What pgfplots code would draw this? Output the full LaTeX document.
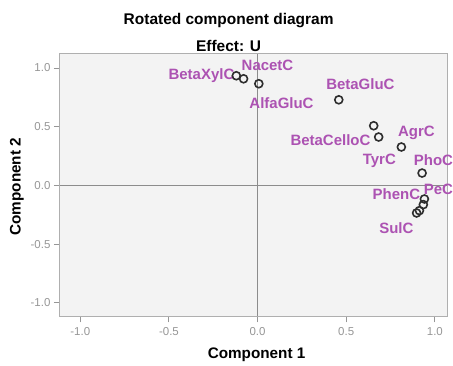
\documentclass[border=0pt]{standalone}
\usepackage{pgfplots}
\pgfplotsset{compat=1.18}
\usepackage{fontspec}
\setmainfont{Liberation Sans}

\definecolor{lbl}{RGB}{172,82,178}
\definecolor{frm}{RGB}{175,175,175}
\definecolor{zeroln}{RGB}{140,140,140}
\definecolor{tickc}{RGB}{150,150,150}
\definecolor{ptc}{RGB}{45,45,45}
\definecolor{bgc}{RGB}{243,243,243}

\newcommand{\lblfont}{\fontsize{15bp}{15bp}\selectfont\bfseries}

\begin{document}
\begin{tikzpicture}[x=1bp,y=1bp]
\begin{axis}[
  scale only axis,
  width=388bp, height=263bp,
  xmin=-1.115, xmax=1.07,
  ymin=-1.117, ymax=1.12,
  axis background/.style={fill=bgc},
  axis line style={frm, line width=0.9bp},
  xtick={-1,-0.5,0,0.5,1},
  ytick={-1,-0.5,0,0.5,1},
  tick pos=left,
  tick align=outside,
  major tick length=6bp,
  tick style={tickc, line width=0.9bp},
  tick label style={tickc, font=\fontsize{11.5bp}{12bp}\selectfont},
  /pgf/number format/.cd, fixed, fixed zerofill, precision=1, assume math mode=true,
  /pgfplots/.cd,
  xticklabel style={yshift=-1bp},
  clip=false,
]
% reference lines through the origin
\draw[zeroln, line width=1.5bp] (axis cs:0,-1.117) -- (axis cs:0,1.12);
\draw[zeroln, line width=1.5bp] (axis cs:-1.115,0) -- (axis cs:1.07,0);

% rotated component loadings
\addplot[only marks, mark=o, mark size=4bp, mark options={ptc, line width=1.6bp}]
  coordinates {
  (-0.120, 0.934) (-0.079, 0.908) (0.007, 0.866) (0.458, 0.729)
  (0.655, 0.508) (0.683, 0.412) (0.811, 0.327) (0.928, 0.105)
  (0.941, -0.116) (0.935, -0.164) (0.913, -0.215) (0.897, -0.235)
  };

\begin{scope}[every node/.style={lbl, font=\lblfont, inner sep=0pt}]
\node[anchor=east] at (axis cs:-0.130, 0.934) {BetaXylC};
\node at (axis cs:0.056, 1.023) {NacetC};
\node at (axis cs:0.135, 0.704) {AlfaGluC};
\node at (axis cs:0.580, 0.866) {BetaGluC};
\node at (axis cs:0.411, 0.389) {BetaCelloC};
\node at (axis cs:0.896, 0.451) {AgrC};
\node at (axis cs:0.687, 0.213) {TyrC};
\node at (axis cs:0.992, 0.219) {PhoC};
\node at (axis cs:1.020, -0.031) {PeC};
\node at (axis cs:0.783, -0.073) {PhenC};
\node at (axis cs:0.783, -0.363) {SulC};
\end{scope}
\end{axis}

\node[font=\fontsize{15.5bp}{16bp}\selectfont\bfseries] at (169,296) {Rotated component diagram};
\node[font=\fontsize{15.5bp}{16bp}\selectfont\bfseries] at (169,271) {Effect: U};
\node[font=\fontsize{15.3bp}{16bp}\selectfont\bfseries] at (197,-38.5) {Component 1};
\node[font=\fontsize{15.3bp}{16bp}\selectfont\bfseries, rotate=90] at (-43,130) {Component 2};

\path[use as bounding box] (-60,-45) rectangle (393,317);
\end{tikzpicture}
\end{document}
